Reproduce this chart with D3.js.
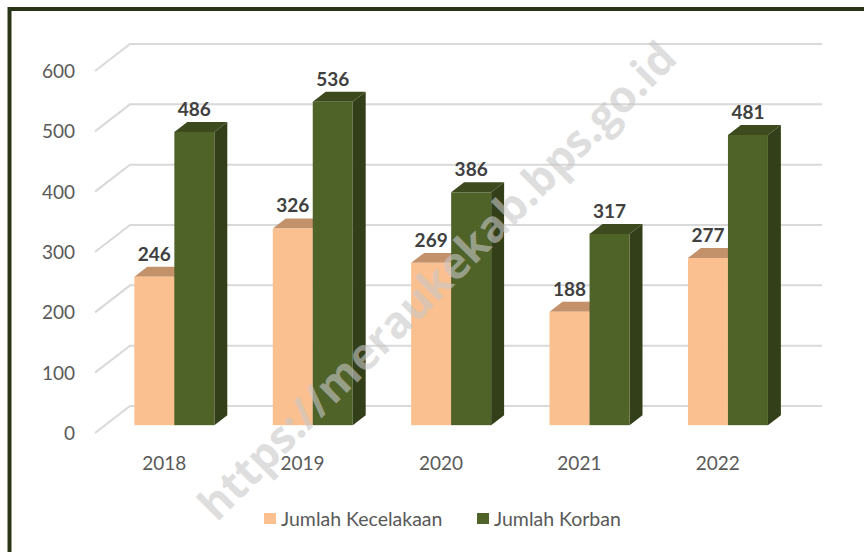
<!DOCTYPE html>
<html>
<head>
<meta charset="utf-8">
<script src="https://cdn.jsdelivr.net/npm/d3@7"></script>
<style>
  body { margin: 0; background: #fff; }
  svg { display: block; font-family: Lato, "Open Sans", sans-serif; }
</style>
</head>
<body>
<div id="chart"></div>
<script>
const years = ['2018', '2019', '2020', '2021', '2022'];
const kecelakaan = [246, 326, 269, 188, 277];
const korban = [486, 536, 386, 317, 481];
const yTicks = [0, 100, 200, 300, 400, 500, 600];
const seriesNames = ['Jumlah Kecelakaan', 'Jumlah Korban'];

const W = 864, H = 552;
// depth of the 3d box (front plane -> back wall)
const DX = 35, DY = -27;
const t0 = 0.29, t1 = 0.66;
const barW = 40;

const svg = d3.select('#chart').append('svg')
    .attr('width', W)
    .attr('height', H);

// outer border, runs past the right and bottom edges
svg.append('rect')
    .attr('x', 9.5).attr('y', 9)
    .attr('width', W + 20).attr('height', H + 20)
    .attr('fill', 'none')
    .attr('stroke', '#2a3517')
    .attr('stroke-width', 4);

const x = d3.scaleBand().domain(years).range([95, 787]);
const y = d3.scaleLinear().domain([0, 600]).range([433, 71]);

// gridlines: side wall diagonal + back wall
svg.append('g')
    .selectAll('polyline')
    .data(yTicks)
    .enter().append('polyline')
    .attr('points', d => {
        const yf = y(d);
        return `95,${yf} ${95 + DX},${yf + DY} 822,${yf + DY}`;
    })
    .attr('fill', 'none')
    .attr('stroke', '#d9d9d9')
    .attr('stroke-width', 2);

// y axis labels
svg.append('g')
    .selectAll('text')
    .data(yTicks)
    .enter().append('text')
    .attr('x', 75)
    .attr('y', d => y(d))
    .attr('dy', '0.36em')
    .attr('text-anchor', 'end')
    .attr('font-size', 19)
    .attr('fill', '#595959')
    .text(d => d);

// category labels
svg.append('g')
    .selectAll('text')
    .data(years)
    .enter().append('text')
    .attr('x', d => x(d) + x.bandwidth() / 2)
    .attr('y', 470)
    .attr('text-anchor', 'middle')
    .attr('font-size', 19)
    .attr('fill', '#595959')
    .text(d => d);

const series = [
    { name: seriesNames[0], values: kecelakaan, front: '#fac08f', top: '#c3916a', side: '#b98a63', off: -barW },
    { name: seriesNames[1], values: korban, front: '#4f6228', top: '#3c4a1e', side: '#333f18', off: 0 }
];

const ddx = (t1 - t0) * DX, ddy = (t1 - t0) * DY;
const bars = [];
years.forEach((yr, i) => {
    series.forEach(s => {
        const x0 = x(yr) + x.bandwidth() / 2 + s.off + t0 * DX;
        const yb = y(0) + t0 * DY;
        const yt = y(s.values[i]) + t0 * DY;
        bars.push({ x0, yb, yt, s, v: s.values[i] });
    });
});

const g = svg.append('g');
bars.forEach(b => {
    const { x0, yb, yt, s } = b;
    g.append('path')
        .attr('d', `M${x0 + barW},${yt}L${x0 + barW + ddx},${yt + ddy}L${x0 + barW + ddx},${yb + ddy}L${x0 + barW},${yb}Z`)
        .attr('fill', s.side);
    g.append('path')
        .attr('d', `M${x0},${yt}L${x0 + barW},${yt}L${x0 + barW + ddx},${yt + ddy}L${x0 + ddx},${yt + ddy}Z`)
        .attr('fill', s.top);
    g.append('rect')
        .attr('x', x0).attr('y', yt)
        .attr('width', barW).attr('height', yb - yt)
        .attr('fill', s.front);
});

// value labels
svg.append('g')
    .selectAll('text')
    .data(bars)
    .enter().append('text')
    .attr('x', d => d.x0 + barW / 2)
    .attr('y', d => d.yt - 16)
    .attr('text-anchor', 'middle')
    .attr('font-size', 19)
    .attr('font-weight', 'bold')
    .attr('fill', '#404040')
    .text(d => d.v);

// legend
const legend = svg.append('g');
const legendX = [264, 477];
series.forEach((s, i) => {
    legend.append('rect')
        .attr('x', legendX[i]).attr('y', 513)
        .attr('width', 12).attr('height', 11)
        .attr('fill', s.front);
    legend.append('text')
        .attr('x', legendX[i] + 17)
        .attr('y', 526)
        .attr('font-size', 19.5)
        .attr('fill', '#595959')
        .text(s.name);
});

// watermark
svg.append('text')
    .attr('transform', 'translate(437,281) rotate(-45)')
    .attr('text-anchor', 'middle')
    .attr('dy', '0.35em')
    .attr('font-size', 44)
    .attr('font-weight', 'bold')
    .attr('font-family', '"Open Sans", sans-serif')
    .attr('fill', '#c8c8c8')
    .attr('fill-opacity', 0.6)
    .text('https://meraukekab.bps.go.id');
</script>
</body>
</html>
